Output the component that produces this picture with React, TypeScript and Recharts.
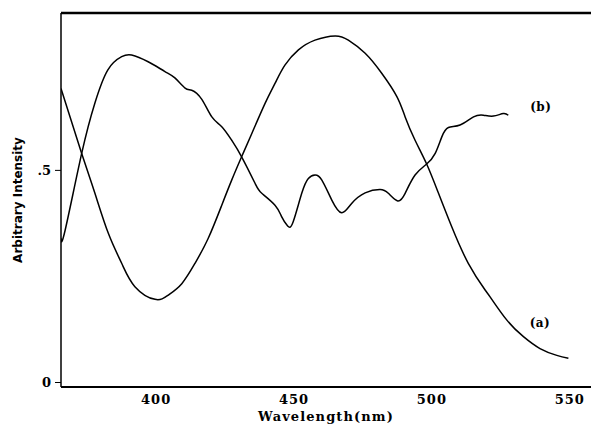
import { LineChart, Line, XAxis, YAxis, ReferenceLine, ReferenceDot } from "recharts";

// curve (a)
const wavelengthA = [
  365.5, 373, 377.8, 382.7, 387.5, 392.3, 399.6, 404.4, 409.3, 414.1, 418.9, 423.8, 427.4, 431,
  434.7, 439.5, 443.1, 446.7, 451.6, 457.6, 464.9, 469.7, 475.8, 481.8, 487.3, 490.3, 493.9,
  498.1, 502.4, 507.2, 513.2, 519.3, 521.1, 527.2, 533.2, 539.2, 545.3, 549.5,
];
const intensityA = [
  0.693, 0.54, 0.446, 0.351, 0.281, 0.226, 0.196, 0.206, 0.233, 0.281, 0.34, 0.418, 0.477, 0.532,
  0.587, 0.658, 0.705, 0.748, 0.784, 0.807, 0.817, 0.807, 0.776, 0.729, 0.674, 0.626, 0.571,
  0.515, 0.446, 0.367, 0.281, 0.218, 0.202, 0.147, 0.108, 0.08, 0.064, 0.057,
];

// curve (b)
const wavelengthB = [
  365.5, 367, 373, 377.8, 382.5, 387.5, 391.1, 397.1, 403.2, 406.8, 410.5, 412.9, 416.5, 420.2,
  423.8, 427.4, 431, 435.9, 438.3, 443.1, 445.5, 447.7, 449.7, 452.8, 455.2, 457.6, 460.1, 463.7,
  467.3, 470.9, 475.8, 481.2, 484.2, 487.6, 490.3, 493.9, 498.1, 501.2, 503.6, 506, 510.2, 515.1,
  518.7, 522.3, 525.9, 527.7,
];
const intensityB = [
  0.34, 0.359, 0.54, 0.659, 0.737, 0.768, 0.772, 0.756, 0.733, 0.718, 0.694, 0.689, 0.668, 0.626,
  0.603, 0.571, 0.532, 0.469, 0.446, 0.418, 0.391, 0.369, 0.379, 0.446, 0.481, 0.489, 0.477, 0.43,
  0.4, 0.422, 0.447, 0.455, 0.446, 0.428, 0.446, 0.489, 0.515, 0.54, 0.579, 0.601, 0.607, 0.626,
  0.63, 0.628, 0.634, 0.63,
];

const xTicks = [400, 450, 500, 550];
const yTicks = [0, 0.5];

const X_MIN = 365.5;
const X_MAX = 557.7;
const Y_MIN = -0.0106;
const Y_MAX = 0.871;

const dataA = wavelengthA.map((w, i) => ({ w, v: intensityA[i] }));
const dataB = wavelengthB.map((w, i) => ({ w, v: intensityB[i] }));

const tickFont = {
  fill: "#000",
  fontSize: 13,
  fontWeight: 700,
  fontFamily: "DejaVu Serif",
  letterSpacing: 1,
};

const curveLabel = {
  fill: "#000",
  fontSize: 12,
  fontWeight: 700,
  fontFamily: "DejaVu Serif",
  letterSpacing: 0.5,
};

export default function App() {
  return (
    <div style={{ width: 591, height: 426 }}>
      <style>{`body{margin:0;background:#fff}`}</style>
      <LineChart width={591} height={426} margin={{ top: 13, right: 0, bottom: 0, left: 0 }}>
        <XAxis
          dataKey="w"
          type="number"
          domain={[X_MIN, X_MAX]}
          allowDataOverflow
          ticks={xTicks}
          height={39}
          tickLine={false}
          tickSize={4}
          tickMargin={4}
          axisLine={{ stroke: "#000", strokeWidth: 2 }}
          tick={tickFont}
          label={{
            value: "Wavelength(nm)",
            position: "insideBottom",
            offset: 5,
            style: {
              fill: "#000",
              fontSize: 13,
              fontWeight: 700,
              fontFamily: "DejaVu Serif",
              letterSpacing: 1.1,
            },
          }}
        />
        <YAxis
          type="number"
          domain={[Y_MIN, Y_MAX]}
          allowDataOverflow
          ticks={yTicks}
          width={61}
          tickSize={6}
          tickMargin={4}
          tickFormatter={(v: number) => (v === 0 ? "0" : ".5")}
          tickLine={{ stroke: "#000" }}
          axisLine={{ stroke: "#000", strokeWidth: 1.5 }}
          tick={{ ...tickFont, letterSpacing: 0 }}
          label={{
            value: "Arbitrary Intensity",
            angle: -90,
            position: "insideLeft",
            offset: 18,
            style: {
              textAnchor: "middle",
              fill: "#000",
              fontSize: 12,
              fontWeight: 700,
              fontFamily: "DejaVu Sans",
            },
          }}
        />
        <ReferenceLine y={Y_MAX} stroke="#000" strokeWidth={2.5} ifOverflow="extendDomain" />
        <Line
          data={dataA}
          dataKey="v"
          type="natural"
          stroke="#000"
          strokeWidth={1.5}
          dot={false}
          activeDot={false}
          isAnimationActive={false}
        />
        <Line
          data={dataB}
          dataKey="v"
          type="natural"
          stroke="#000"
          strokeWidth={1.5}
          dot={false}
          activeDot={false}
          isAnimationActive={false}
        />
        <ReferenceDot
          x={539.5}
          y={0.649}
          r={0}
          label={{ value: "(b)", position: "center", style: curveLabel }}
        />
        <ReferenceDot
          x={539.2}
          y={0.14}
          r={0}
          label={{ value: "(a)", position: "center", style: curveLabel }}
        />
      </LineChart>
    </div>
  );
}
